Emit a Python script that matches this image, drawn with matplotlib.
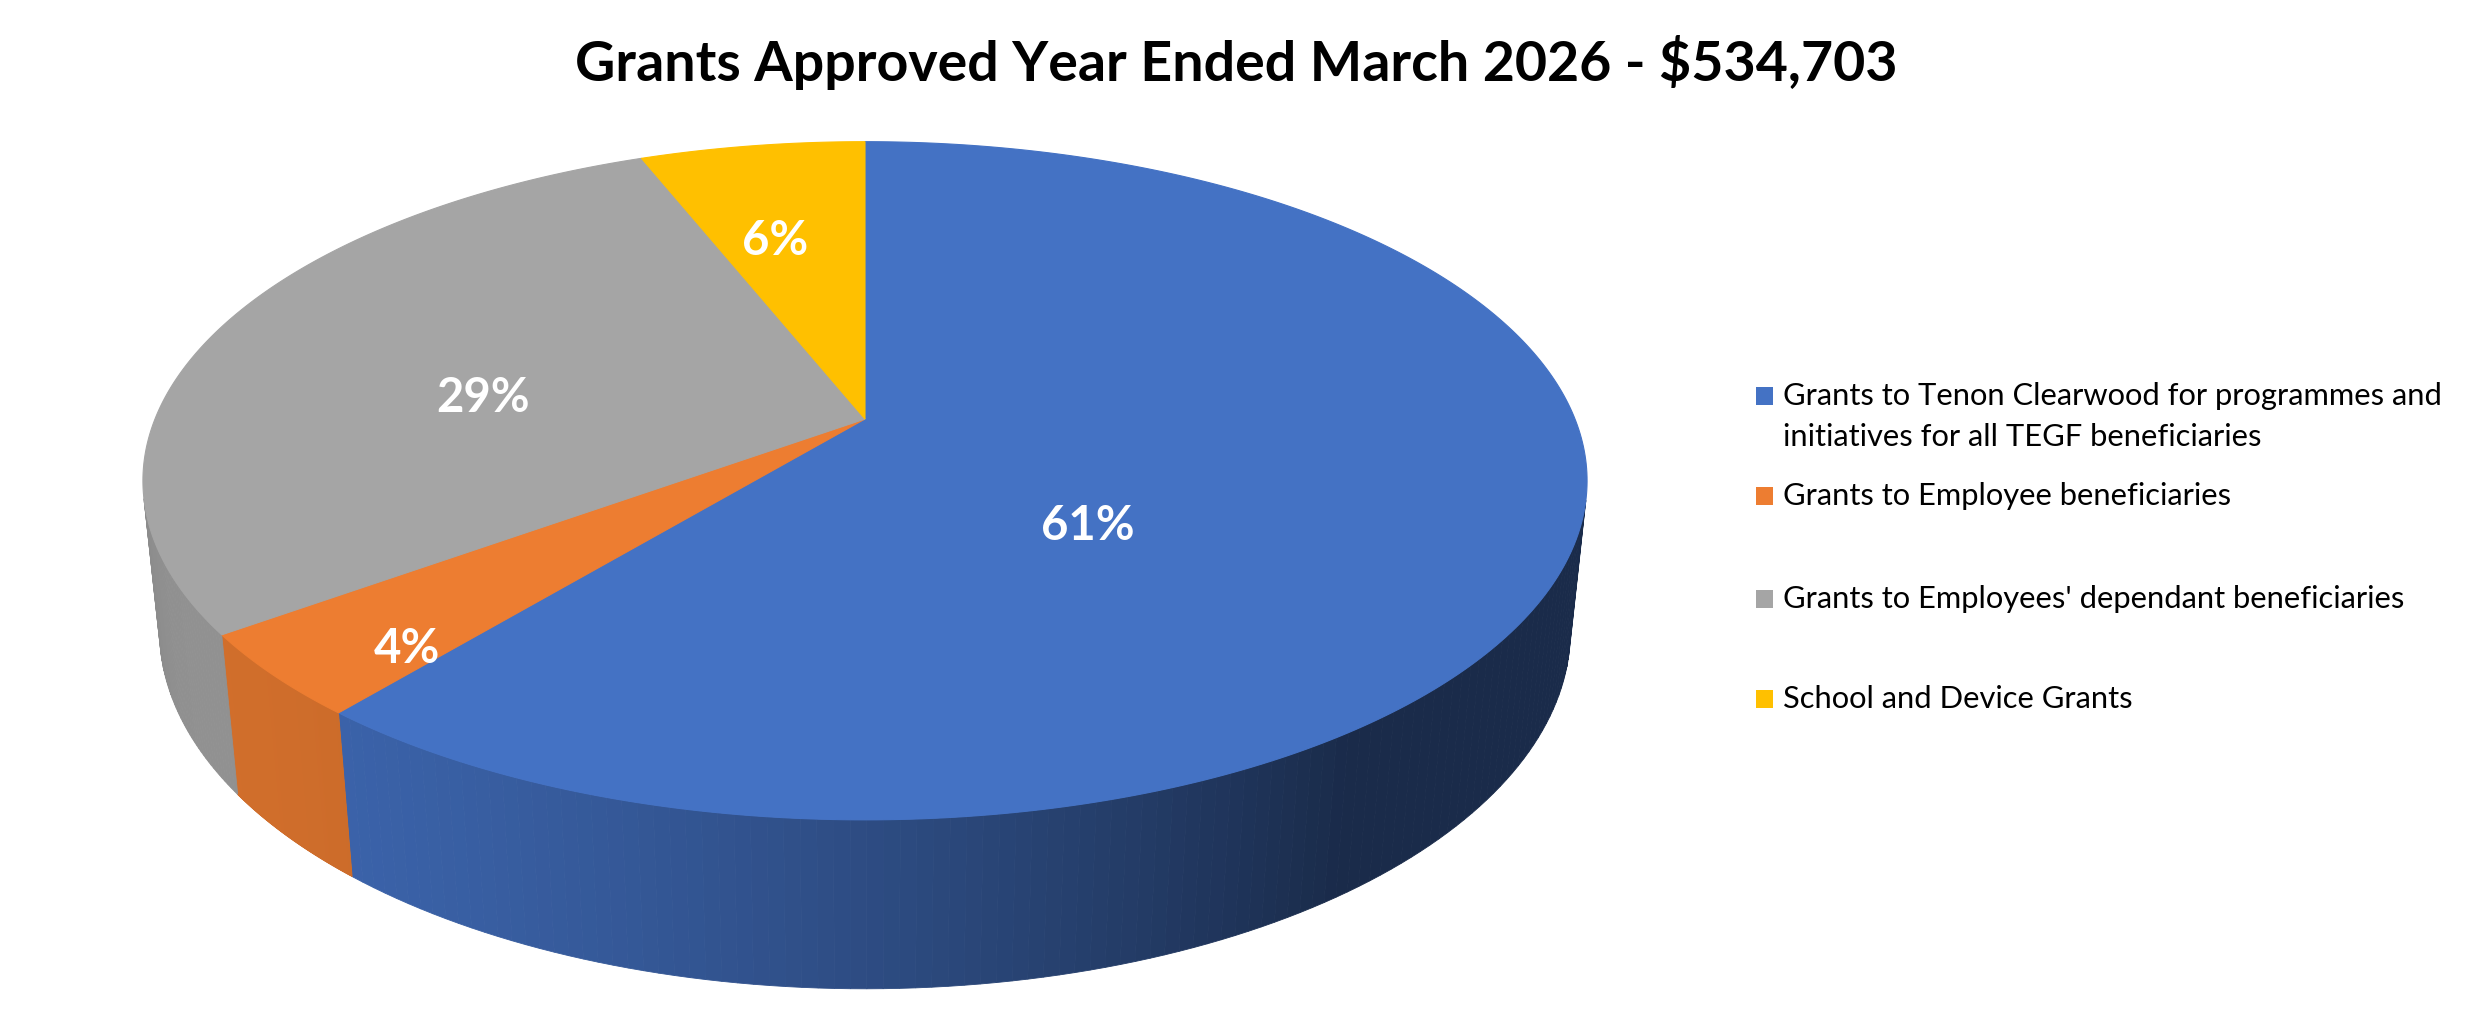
import numpy as np
import matplotlib.pyplot as plt
from matplotlib.colors import to_rgb
from matplotlib.patches import Rectangle

# chart data
title = "Grants Approved Year Ended March 2026 - $534,703"
categories = [
    "Grants to Tenon Clearwood for programmes and\ninitiatives for all TEGF beneficiaries",
    "Grants to Employee beneficiaries",
    "Grants to Employees' dependant beneficiaries",
    "School and Device Grants",
]
shares = [61, 4, 29, 6]
colors = ["#4472C4", "#ED7D31", "#A5A5A5", "#FFC000"]

plt.rcParams["font.family"] = ["Lato", "DejaVu Sans"]

W, H = 2481, 1036
fig = plt.figure(figsize=(W / 100, H / 100), dpi=100)
ax = fig.add_axes([0, 0, 1, 1])
ax.set_xlim(0, W)
ax.set_ylim(H, 0)
ax.axis("off")

# --- 3D pie geometry (pixel space, perspective camera) ---
cx, cy = 865, 419          # where the slices meet
scale = 710                # pixels per pie radius
elev = np.radians(27.5)
dist = 4.87                # camera distance in radii
thick = 0.24               # pie thickness in radii
s_e, c_e = np.sin(elev), np.cos(elev)


def project(th, r=1.0, z=0.0):
    x = r * np.cos(th)
    y = r * np.sin(th)
    d = dist + y * c_e - z * s_e
    u = x * dist / d
    v = (y * s_e + z * c_e) * dist / d
    return cx + scale * u, cy - scale * v


def shade(th):
    # simple lambert style light coming from the front-left
    return 0.38 + 0.5 * max(0.0, np.cos(th - np.radians(215)))


frac = np.array(shares, dtype=float) / sum(shares)
edges = np.radians(90 - 360 * np.concatenate([[0], np.cumsum(frac)]))

# side walls, only the parts that face the camera
limit = -1.0 / (dist * c_e)
for i, col in enumerate(colors):
    base = np.array(to_rgb(col))
    ths = np.linspace(edges[i], edges[i + 1], 200)
    for a, b in zip(ths[:-1], ths[1:]):
        mid = 0.5 * (a + b)
        if np.sin(mid) >= limit:
            continue
        xa, ya = project(a)
        xb, yb = project(b)
        xc, yc = project(b, z=-thick)
        xd, yd = project(a, z=-thick)
        fc = np.clip(base * shade(mid), 0, 1)
        ax.fill([xa, xb, xc, xd], [ya, yb, yc, yd], color=fc, lw=0.6, ec=fc)

# top faces
for i, col in enumerate(colors):
    ths = np.linspace(edges[i], edges[i + 1], 300)
    px, py = project(ths)
    x0, y0 = project(0.0, r=0.0)
    ax.fill(np.r_[x0, px], np.r_[y0, py], color=col, lw=0.8, ec=col)

# percentage labels
label_r = [0.33, 0.80, 0.58, 0.77]
label_z = [-0.11, -0.045, -0.05, -0.07]
for i, pct in enumerate(shares):
    mid = 0.5 * (edges[i] + edges[i + 1])
    lx, ly = project(mid, r=label_r[i], z=label_z[i])
    ax.text(lx, ly, f"{pct}%", color="white", fontsize=34, fontweight="bold",
            ha="center", va="center")

# title
ax.text(1236, 81, title, fontsize=40, fontweight="bold", ha="center", va="baseline")

# legend
baselines = [405, 505, 608, 708]
for col, label, yb in zip(colors, categories, baselines):
    ax.add_patch(Rectangle((1756, yb - 18), 17, 18, color=col, lw=0))
    for k, line in enumerate(label.split("\n")):
        ax.text(1783, yb + 41 * k, line, fontsize=22.2, ha="left", va="baseline")

fig.savefig("out.png", dpi=100, facecolor="white")
